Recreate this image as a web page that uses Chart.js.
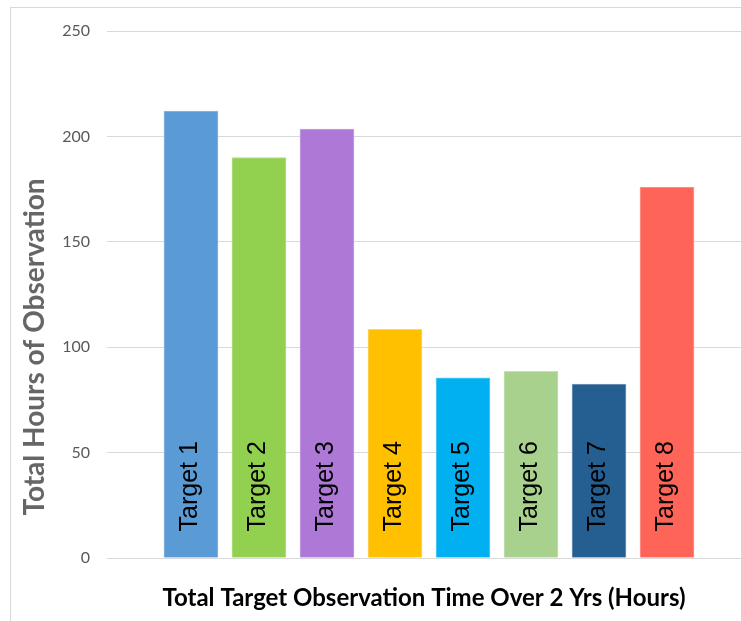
<!DOCTYPE html>
<html>
<head>
<meta charset="utf-8">
<script src="https://cdn.jsdelivr.net/npm/chart.js@4.4.0/dist/chart.umd.min.js"></script>
<style>
  html, body { margin: 0; padding: 0; background: #fff; overflow: hidden; }
  #frame { position: absolute; left: 10px; top: 7px; width: 900px; height: 800px; border: 1px solid #d9d9d9; }
  #wrap { position: absolute; left: 0; top: 0; width: 741px; height: 621px; }
</style>
</head>
<body>
<div id="frame"></div>
<div id="wrap"><canvas id="obsChart" width="741" height="621"></canvas></div>
<script>
// data
var targets = ['Target 1', 'Target 2', 'Target 3', 'Target 4', 'Target 5', 'Target 6', 'Target 7', 'Target 8'];
var hours = [212, 190, 203.5, 108.5, 85.5, 88.5, 82.5, 176];
var yTicks = [0, 50, 100, 150, 200, 250];

var barColors = ['#5b9bd5', '#92d050', '#ad78d6', '#ffc000', '#00b0f0', '#a9d18e', '#255e91', '#ff6459'];
var barEdges  = ['#8cb9e3', '#b5e08a', '#c9a3e4', '#ffd466', '#66d0f6', '#c7e2b4', '#7c9ebd', '#ff9a93'];

// bar captions drawn upright inside each bar
var barCaptions = {
    id: 'barCaptions',
    afterDatasetsDraw: function(chart) {
        var ctx = chart.ctx;
        var meta = chart.getDatasetMeta(0);
        ctx.save();
        ctx.fillStyle = '#000';
        ctx.font = '25px "Liberation Sans", Arial, sans-serif';
        ctx.textAlign = 'left';
        ctx.textBaseline = 'middle';
        meta.data.forEach(function(bar, i) {
            ctx.save();
            ctx.translate(bar.x - 1, bar.base - 26);
            ctx.rotate(-Math.PI / 2);
            ctx.fillText(targets[i], 0, 0);
            ctx.restore();
        });
        ctx.restore();
    }
};

// y axis title sits lower than the axis middle in the reference
var yTitle = {
    id: 'yTitle',
    afterDraw: function(chart) {
        var ctx = chart.ctx;
        ctx.save();
        ctx.fillStyle = '#666666';
        ctx.font = 'bold 28px Lato, sans-serif';
        ctx.textAlign = 'center';
        ctx.textBaseline = 'middle';
        ctx.translate(35, chart.chartArea.bottom - 211);
        ctx.rotate(-Math.PI / 2);
        ctx.fillText('Total Hours of Observation', 0, 0);
        ctx.restore();
    }
};

var ctx = document.getElementById('obsChart').getContext('2d');
var obsChart = new Chart(ctx, {
    type: 'bar',
    data: {
        datasets: [{
            label: 'Total Hours of Observation',
            data: hours.map(function(h, i) { return { x: i + 1, y: h }; }),
            backgroundColor: barColors,
            borderColor: barEdges,
            borderWidth: 1,
            barThickness: 54
        }]
    },
    options: {
        responsive: false,
        animation: false,
        devicePixelRatio: 1,
        layout: { padding: { top: 31, right: 0, left: 0, bottom: 0 } },
        plugins: {
            legend: { display: false },
            tooltip: { enabled: false }
        },
        scales: {
            x: {
                type: 'linear',
                offset: false,
                min: -0.235,
                max: 9.088,
                grid: { display: false },
                border: { display: false },
                ticks: { display: false },
                title: {
                    display: true,
                    text: 'Total Target Observation Time Over 2 Yrs (Hours)',
                    color: '#000',
                    font: { family: 'Lato, sans-serif', size: 24, weight: 'bold' },
                    padding: { top: 19, bottom: 8 }
                },
                afterFit: function(scale) { scale.height = 63; }
            },
            y: {
                min: 0,
                max: 250,
                afterBuildTicks: function(scale) {
                    scale.ticks = yTicks.map(function(v) { return { value: v }; });
                },
                grid: { color: '#d9d9d9', lineWidth: 1, drawTicks: false },
                border: { display: false },
                ticks: {
                    color: '#595959',
                    padding: 17,
                    font: { family: 'Lato, sans-serif', size: 16 }
                },
                afterFit: function(scale) { scale.width = 107; }
            }
        }
    },
    plugins: [barCaptions, yTitle]
});
</script>
</body>
</html>
